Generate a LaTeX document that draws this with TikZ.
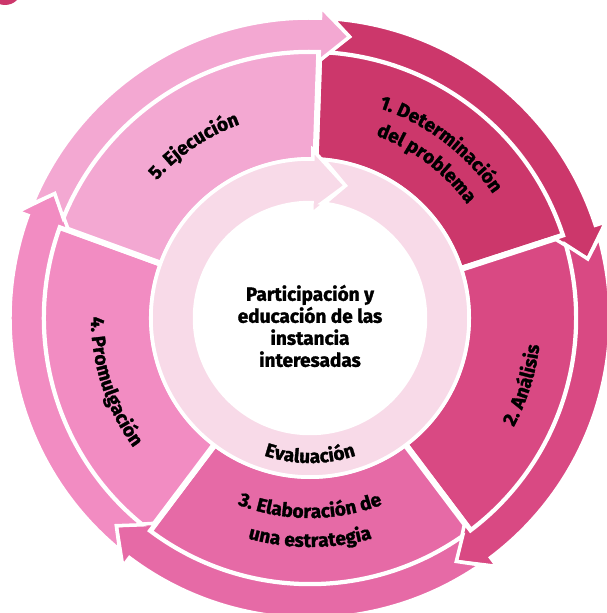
\documentclass[tikz,border=0pt]{standalone}
\usepackage{fontspec}
\setmainfont{Fira Sans}[BoldFeatures={FakeBold=1.6}]
\usepackage{tikz}
\usetikzlibrary{calc}
\usetikzlibrary{decorations.text}

\definecolor{rosa0}{HTML}{F8DAE8}
\definecolor{rosa1}{HTML}{CC376B}
\definecolor{rosa2}{HTML}{D94983}
\definecolor{rosa3}{HTML}{E66AA6}
\definecolor{rosa4}{HTML}{F28CC2}
\definecolor{rosa5}{HTML}{F3A8D2}
\newcommand{\rotulofont}{\bfseries\fontsize{19}{22}\selectfont}

\begin{document}
\begin{tikzpicture}[x=1pt,y=1pt]
\tikzstyle{seg}=[draw=white, line width=6pt, line join=miter]
\tikzstyle{flecha}=[draw=white, line width=3.5pt, line join=miter]
\tikzset{rotulo/.style={decorate, decoration={text along path, text align=center, text={|\rotulofont|#1}}}}
\fill[white] (-310,-295) rectangle (297,318);
\useasboundingbox (-310,-295) rectangle (297,318);
\fill[rosa1] (-305,330) circle (17pt);
% etapas
\foreach \s/\e/\col in {88/18/rosa1, 18/-53/rosa2, -53/-127/rosa3, -127/-200/rosa4, 160/88/rosa5}
    \draw[seg, fill=\col] (\s:158pt) arc[start angle=\s, end angle=\e, radius=158pt]
        -- (\e:267pt) arc[start angle=\e, end angle=\s, radius=267pt] -- cycle;
% flechas exteriores
\foreach \s/\e/\col in {88/18/rosa1, 18/-53/rosa2, -53/-127/rosa3, -127/-200/rosa4, 160/88/rosa5}
    \draw[flecha, fill=\col] ({\s-2.4}:300pt) arc[start angle=\s-2.4, end angle=\e, radius=300pt]
        -- (\e:311pt) -- ({\e-6}:284pt) -- (\e:257pt) -- (\e:266.5pt)
        arc[start angle=\e, end angle=\s-2.1, radius=266.5pt] -- ({\s-6}:284pt) -- cycle;
% evaluacion
\draw[flecha, fill=rosa0] (85:159pt) arc[start angle=85, end angle=-271, radius=159pt]
    -- (-271:168pt) -- (-285:137pt) -- (-271:104pt) -- (-271:115.5pt)
    arc[start angle=-271, end angle=84.1, radius=115.5pt] -- (75:137pt) -- cycle;
\node[align=center, font=\rotulofont] (centro) at (0,-8) {Participación y\\educación de las\\instancia\\interesadas};
\path[rotulo={1. Determinación}] (98:221pt) arc[start angle=98, end angle=8, radius=221pt];
\path[rotulo={del problema}] (98:194pt) arc[start angle=98, end angle=8, radius=194pt];
\path[rotulo={2. Análisis}] (-62.5:231pt) arc[start angle=-62.5, end angle=27.5, radius=231pt];
\path[rotulo={3. Elaboración de}] (-135:200pt) arc[start angle=-135, end angle=-45, radius=200pt];
\path[rotulo={una estrategia}] (-135:229pt) arc[start angle=-135, end angle=-45, radius=229pt];
\path[rotulo={4. Promulgación}] (153:219pt) arc[start angle=153, end angle=243, radius=219pt];
\path[rotulo={5. Ejecución}] (169:206pt) arc[start angle=169, end angle=79, radius=206pt];
\path[rotulo={Evaluación}] (-150:145pt) arc[start angle=-150, end angle=-30, radius=145pt];
\end{tikzpicture}
\end{document}
